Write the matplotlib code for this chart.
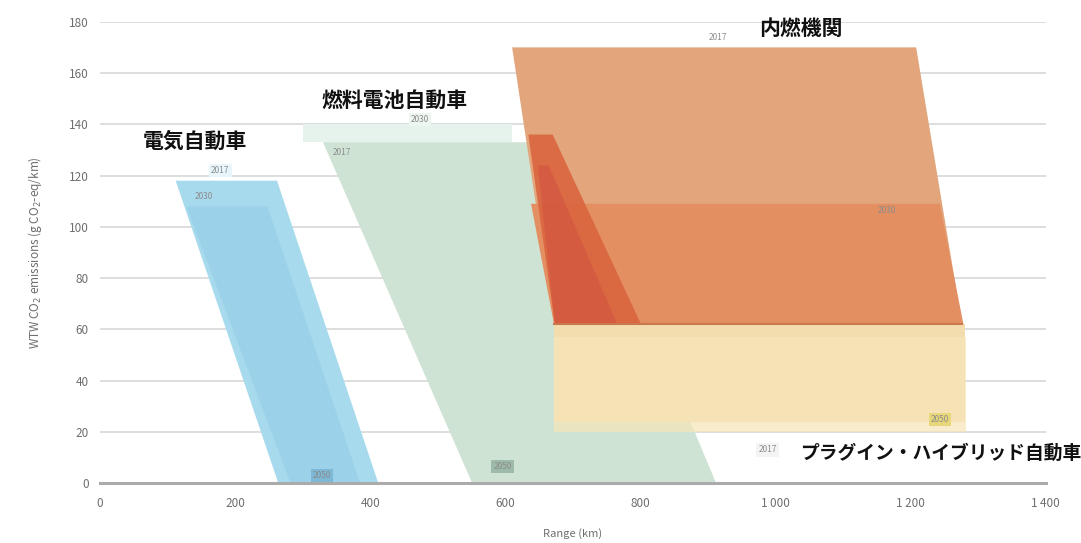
import matplotlib.pyplot as plt
from matplotlib.patches import Polygon
from matplotlib.ticker import FuncFormatter

plt.rcParams['font.family'] = ['Noto Sans CJK JP', 'DejaVu Sans']

# polygon outlines: range (km) and WTW emissions (g/km), one list per year band
ev_2017_km = [112, 262, 412, 264]
ev_2017_co2 = [118, 118, 0, 0]
ev_2030_km = [128, 248, 385, 282]
ev_2030_co2 = [108, 108, 0, 0]

fc_2017_km = [330, 700, 912, 551]
fc_2017_co2 = [133, 133, 0, 0]
fc_2030_km = [300, 610, 610, 300]
fc_2030_co2 = [140, 140, 133, 133]

ice_2017_km = [610, 1208, 1276, 672]
ice_2017_co2 = [170, 170, 62, 62]
ice_2030_km = [638, 1243, 1278, 672]
ice_2030_co2 = [109, 109, 62, 62]
ice_2050_km = [634, 670, 800, 673]
ice_2050_co2 = [136, 136, 62.5, 62.5]
ice_core_km = [648, 664, 765, 673]
ice_core_co2 = [124, 124, 62.5, 62.5]

phev_2017_km = [672, 1280, 1280, 672]
phev_2017_co2 = [62, 62, 24, 24]
phev_2030_km = [672, 1282, 1282, 672]
phev_2030_co2 = [57, 57, 20, 20]

shapes = [
    (fc_2030_km, fc_2030_co2, '#E6F3EC', 1.0),
    (fc_2017_km, fc_2017_co2, '#CFE3D4', 1.0),
    (ev_2017_km, ev_2017_co2, '#A8DAEE', 1.0),
    (ev_2030_km, ev_2030_co2, '#93CDE7', 0.6),
    (phev_2017_km, phev_2017_co2, '#F3DCAE', 1.0),
    (phev_2030_km, phev_2030_co2, '#F6E5B8', 0.7),
    (ice_2017_km, ice_2017_co2, '#E3A67C', 1.0),
    (ice_2030_km, ice_2030_co2, '#E48F62', 1.0),
    (ice_2050_km, ice_2050_co2, '#D9653F', 0.9),
    (ice_core_km, ice_core_co2, '#D25240', 0.6),
]

titles = ['電気自動車', '燃料電池自動車', '内燃機関', 'プラグイン・ハイブリッド自動車']
title_x = [140, 436, 1038, 1244]
title_y = [133.5, 149.5, 177.5, 11.5]
title_size = [15, 15, 15, 13.5]

year_labels = ['2017', '2030', '2050', '2017', '2030', '2050', '2017', '2030', '2017', '2050']
year_x = [178, 153, 329, 358, 474, 596, 915, 1165, 988, 1243]
year_y = [122, 112, 3, 129, 142, 6.5, 174, 106.5, 13, 25]
year_bg = ['#E8F6FB', '#A8DAEE', '#7DB9D6', '#CFE3D4', '#EEF6F0', '#9DBBA8',
           '#FFFFFF', '#E48F62', '#F4F4F4', '#E8D77A']

fig = plt.figure(figsize=(10.81, 5.43), dpi=100)
ax = fig.add_axes([0.0925, 0.11, 0.875, 0.85])

for km, co2, col, a in shapes:
    ax.add_patch(Polygon(list(zip(km, co2)), closed=True, facecolor=col,
                         edgecolor='none', alpha=a, zorder=2))

# darker rim along the bottom of the combustion-engine range
ax.plot([ice_2017_km[3], ice_2017_km[2]], [ice_2017_co2[3], ice_2017_co2[2]],
        color='#C9784E', linewidth=1.5, zorder=2.5)

for t, x, y, fs in zip(titles, title_x, title_y, title_size):
    ax.text(x, y, t, ha='center', va='center', fontsize=fs,
            fontweight='bold', color='#111111', zorder=5)

for t, x, y, bg in zip(year_labels, year_x, year_y, year_bg):
    ax.text(x, y, t, ha='center', va='center', fontsize=6, color='#8C8C8C',
            zorder=4, bbox=dict(boxstyle='square,pad=0.25', fc=bg, ec='none'))

ax.set_xlim(0, 1400)
ax.set_ylim(0, 180)
ax.set_xticks(range(0, 1401, 200))
ax.set_yticks(range(0, 181, 20))
ax.xaxis.set_major_formatter(FuncFormatter(lambda v, p: f'{int(v):,}'.replace(',', '\u2009')))
# grid lines show through the shaded ranges
ax.grid(axis='y', color='#9A9A9A', alpha=0.35, linewidth=1.3, zorder=3)
for s in ['top', 'right', 'left']:
    ax.spines[s].set_visible(False)
ax.spines['bottom'].set_color('#ABABAB')
ax.spines['bottom'].set_linewidth(2.2)
ax.spines['bottom'].set_zorder(6)
ax.tick_params(axis='both', length=0, labelsize=8.5, labelcolor='#6E6E6E')
ax.tick_params(axis='x', pad=10)
ax.tick_params(axis='y', pad=8)
ax.set_xlabel('Range (km)', fontsize=8, color='#6E6E6E', labelpad=13)
ax.set_ylabel('WTW CO$_2$ emissions (g CO$_2$-eq/km)', fontsize=8.5, color='#6E6E6E', labelpad=18)

fig.savefig('out.png', dpi=100)
